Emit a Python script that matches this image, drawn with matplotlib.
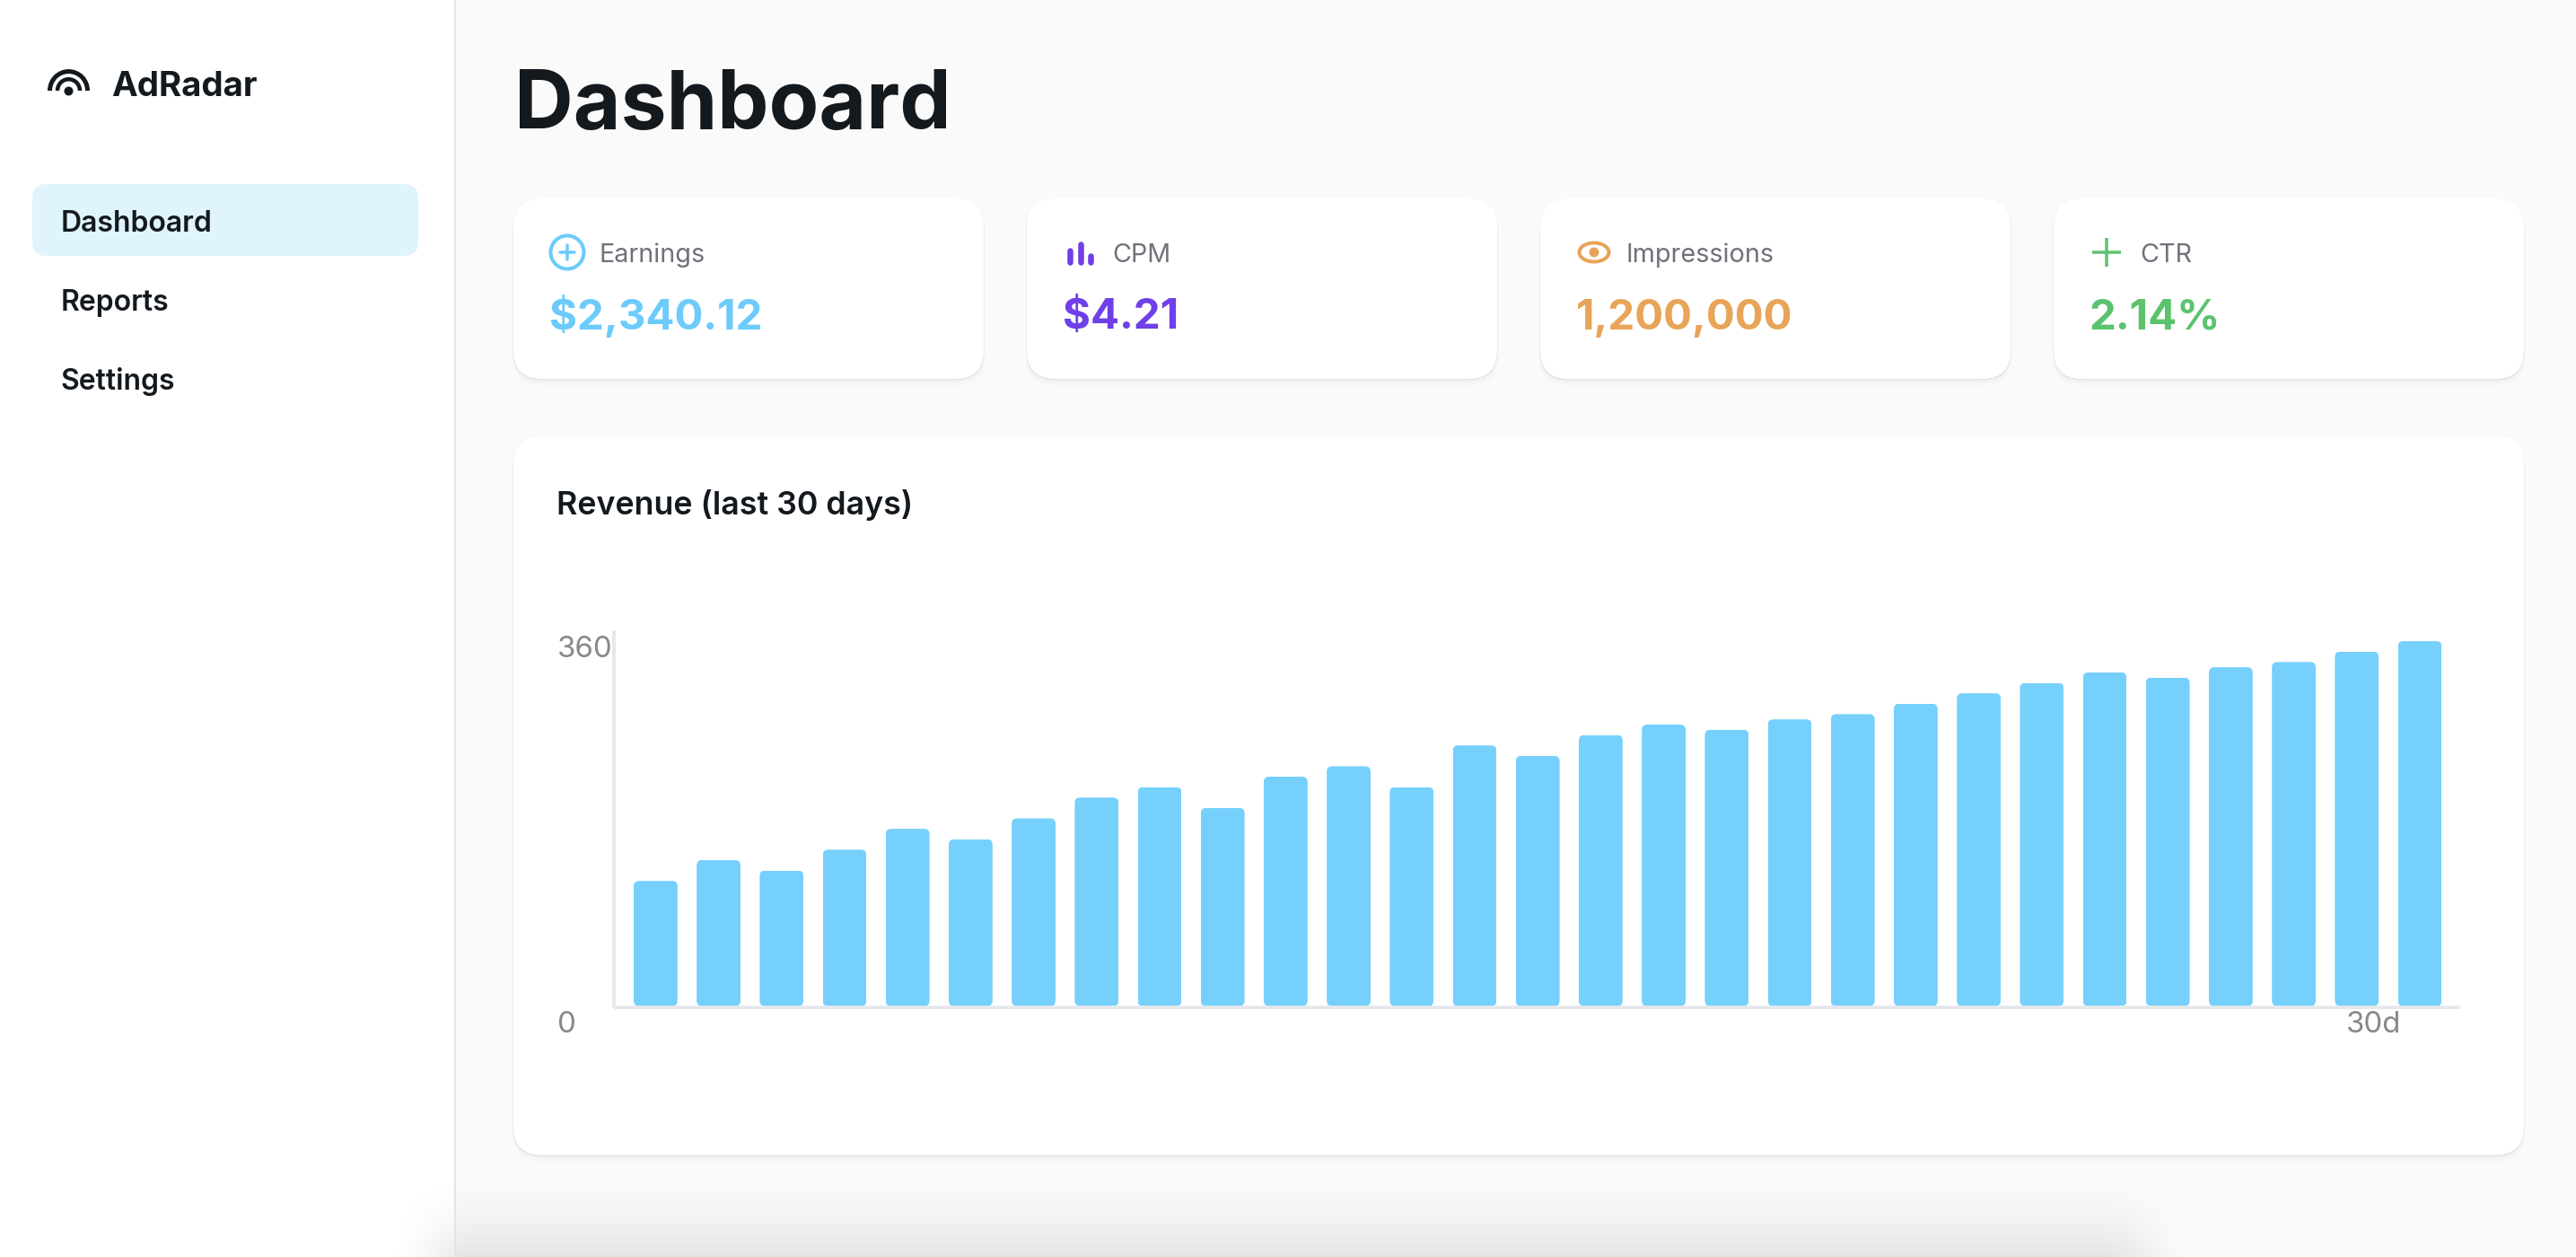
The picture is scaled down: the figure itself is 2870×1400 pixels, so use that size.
import numpy as np
import matplotlib
matplotlib.use("Agg")
import matplotlib.pyplot as plt
from matplotlib.patches import FancyBboxPatch, Rectangle, Circle, Ellipse, Arc
from matplotlib.transforms import ScaledTranslation

# ---- data ----
days = list(range(1, 30))
revenue = [120, 140, 130, 150, 170, 160, 180, 200, 210, 190, 220, 230, 210, 250, 240,
           260, 270, 265, 275, 280, 290, 300, 310, 320, 315, 325, 330, 340, 350]
y_ticks = [0, 360]
y_tick_labels = ["0", "360"]
x_tick_day = [28.27]
x_tick_labels = ["30d"]
nav_items = ["Dashboard", "Reports", "Settings"]
kpi_labels = ["Earnings", "CPM", "Impressions", "CTR"]
kpi_values = ["$2,340.12", "$4.21", "1,200,000", "2.14%"]
kpi_colors = ["#6CCBFB", "#6F3FE8", "#E8A458", "#5DC26E"]

W, H = 2870, 1400
DPI = 100
PX = 72 / DPI
plt.rcParams['font.family'] = ['Inter', 'DejaVu Sans']

fig = plt.figure(figsize=(W / DPI, H / DPI), dpi=DPI, facecolor="#FAFAFA")
bg = fig.add_axes([0, 0, 1, 1], zorder=0)
bg.set_xlim(0, W); bg.set_ylim(H, 0); bg.axis("off")


def rbox(x0, y0, x1, y1, r, **kw):
    p = FancyBboxPatch((x0, y0), x1 - x0, y1 - y0,
                       boxstyle=f"round,pad=0,rounding_size={r}", **kw)
    bg.add_patch(p)
    return p


def card(x0, y0, x1, y1, r=32):
    for d, a in [(8, .006), (6, .008), (4, .012), (2.5, .02), (1.2, .03)]:
        rbox(x0 - d * .2, y0 + d, x1 + d * .2, y1 + d, r, fc="k", ec="none", alpha=a, zorder=2)
    rbox(x0 - .8, y0 - .8, x1 + .8, y1 + .8, r, fc="k", ec="none", alpha=.012, zorder=2)
    rbox(x0, y0, x1, y1, r, fc="white", ec="none", zorder=3)


# sidebar
bg.add_patch(Rectangle((0, 0), 507, H, fc="white", ec="none", zorder=1))

# soft page-bottom shadow
xx = np.arange(W)
prof_y = np.clip((np.arange(1300, H) - 1300) / 100.0, 0, 1) ** 1.7 * 0.088
prof_x = np.clip((xx - 430) / 100.0, 0, 1) * np.clip((2445 - xx) / 110.0, 0, 1)
prof_x = prof_x ** 2 * (3 - 2 * prof_x)
alpha = np.outer(prof_y, prof_x)
rgba = np.zeros(alpha.shape + (4,))
rgba[..., 3] = alpha
bg.imshow(rgba, extent=(0, W, H, 1300), aspect="auto", zorder=1.2, interpolation="bilinear")
bg.set_xlim(0, W); bg.set_ylim(H, 0)
bg.add_patch(Rectangle((506, 0), 2, H, fc="#E4E4E7", ec="none", zorder=1.5))

# logo
DARK = "#14191E"
cx, cy = 76.5, 101
for d, lw in [(42, 5), (25, 4.5)]:
    bg.add_patch(Arc((cx, cy), d, d * 1.02, theta1=180, theta2=360, color=DARK, lw=lw * PX, zorder=4))
bg.add_patch(Circle((cx, cy + 0.5), 5, fc=DARK, ec="none", zorder=4))
bg.text(124, 107, "AdRadar", fontsize=38.5 * PX, fontweight="bold", color=DARK, va="baseline", zorder=4)

# nav
rbox(36, 205, 466, 285, 16, fc="#DFF4FD", ec="none", zorder=2)
for name, y in zip(nav_items, [257.5, 346, 434]):
    bg.text(67.5, y, name, fontsize=32 * PX, fontweight="semibold", color=DARK, va="baseline", zorder=4)

# title
bg.text(573, 143, "Dashboard", fontsize=91 * PX, fontweight="bold", color=DARK, va="baseline", zorder=4)

# KPI cards
card_x = [572, 1144, 1716, 2288]
label_x = [668, 1239, 1811, 2384]
value_x = [612, 1184, 1756, 2327]
for x0, lx, vx, lab, val, c in zip(card_x, label_x, value_x, kpi_labels, kpi_values, kpi_colors):
    card(x0, 221, x0 + 524, 422)
    bg.text(lx, 292.5, lab, fontsize=28.8 * PX, color="#71717A", va="baseline", zorder=4)
    bg.text(vx, 366.5, val, fontsize=47.5 * PX, fontweight="bold", color=c, va="baseline", zorder=4)

# KPI icons
c = kpi_colors[0]
bg.add_patch(Circle((632, 281), 18.5, fc="none", ec=c, lw=4 * PX, zorder=4))
bg.plot([624, 640], [281, 281], color=c, lw=3.5 * PX, zorder=4, solid_capstyle="round")
bg.plot([632, 632], [273, 289], color=c, lw=3.5 * PX, zorder=4, solid_capstyle="round")
c = kpi_colors[1]
for x, t in zip([1192, 1204, 1215], [276, 269, 282]):
    bg.plot([x, x], [t + 3, 292], color=c, lw=6.5 * PX, zorder=4, solid_capstyle="round")
c = kpi_colors[2]
bg.add_patch(Ellipse((1776, 281), 33, 21, fc="none", ec=c, lw=4 * PX, zorder=4))
bg.add_patch(Circle((1776, 281), 5.5, fc=c, ec="none", zorder=4))
c = kpi_colors[3]
bg.plot([2331, 2363], [281, 281], color=c, lw=3.5 * PX, zorder=4, solid_capstyle="butt")
bg.plot([2347, 2347], [265, 297], color=c, lw=3.5 * PX, zorder=4, solid_capstyle="butt")

# chart card
card(572, 485, 2812, 1286.5)
bg.text(620, 573.5, "Revenue (last 30 days)", fontsize=35.8 * PX, fontweight="semibold", color=DARK, va="baseline", zorder=4)

# chart axes
L, R, T, B = 684, 2741, 702.5, 1122
ax = fig.add_axes([L / W, 1 - B / H, (R - L) / W, (B - T) / H], zorder=5)
ax.patch.set_alpha(0)
STEP = 70.2
first_center = 730.4
ax.set_xlim(1 - (first_center - L) / STEP, 1 + (R - first_center) / STEP)
ax.set_ylim(-1.3, 360)
BAR_W = 48.8 / STEP
bars = ax.bar(days, revenue, width=BAR_W, color="#76D0FC", linewidth=0, zorder=2)
y_per_px = (360 + 1.3) / (B - T)
for rect in bars:
    clip = FancyBboxPatch((rect.get_x(), 0), rect.get_width(), rect.get_height(),
                          boxstyle=f"round,pad=0,rounding_size={6 / STEP}",
                          mutation_aspect=y_per_px * STEP,
                          transform=ax.transData)
    rect.set_clip_path(clip)

for s in ["top", "right"]:
    ax.spines[s].set_visible(False)
for s in ["left", "bottom"]:
    ax.spines[s].set_color("#E5E7EB")
    ax.spines[s].set_linewidth(3.8 * PX)
    ax.spines[s].set_capstyle("butt")

ax.set_yticks(y_ticks, y_tick_labels)
ax.set_xticks(x_tick_day, x_tick_labels)
ax.tick_params(axis="both", length=0, labelsize=33 * PX, labelcolor="#888888")
ax.tick_params(axis="y", pad=(L - 621) * PX)
ax.tick_params(axis="x", pad=4.5 * PX)
off = ScaledTranslation(0, -5.5 * PX / 72, fig.dpi_scale_trans)
for t in ax.get_yticklabels():
    t.set_ha("left"); t.set_va("top")
    t.set_transform(t.get_transform() + off)

fig.savefig("out.png", dpi=DPI, facecolor=fig.get_facecolor())
